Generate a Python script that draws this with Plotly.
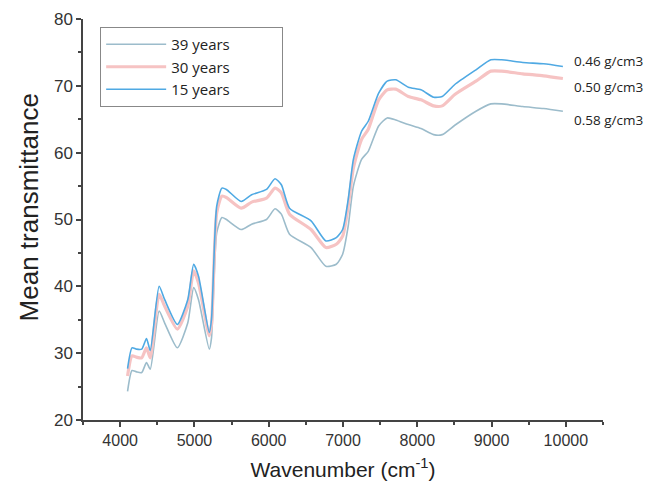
import plotly.graph_objects as go

wavenumber = [4100, 4160, 4220, 4290, 4355, 4405, 4525, 4600, 4770, 4910, 4990, 5055,
              5200, 5230, 5300, 5370, 5430, 5630, 5770, 5970, 6085, 6170, 6280, 6570,
              6770, 6910, 6995, 7070, 7140, 7250, 7340, 7480, 7595, 7710, 7880, 8050,
              8220, 8335, 8505, 8790, 8990, 9135, 9420, 9700, 9960]

years_15 = [27.7, 30.8, 30.6, 30.6, 32.2, 30.4, 40.0, 38.0, 34.3, 38.0, 43.3, 41.5,
            33.1, 35.1, 52.0, 54.7, 54.5, 52.7, 53.7, 54.5, 56.1, 55.2, 51.7, 49.8,
            46.8, 47.3, 48.5, 53.0, 59.0, 63.2, 64.7, 68.9, 70.7, 70.9, 69.8, 69.4,
            68.3, 68.4, 70.2, 72.4, 73.9, 73.9, 73.5, 73.3, 72.9]

years_30 = [26.6, 29.6, 29.4, 29.3, 30.8, 29.3, 38.8, 37.0, 33.6, 37.0, 42.3, 40.5,
            32.6, 34.3, 51.0, 53.5, 53.3, 51.7, 52.6, 53.2, 54.7, 54.0, 50.8, 48.5,
            45.8, 46.3, 47.5, 52.0, 57.7, 62.0, 63.5, 67.9, 69.4, 69.5, 68.4, 67.9,
            67.0, 67.0, 68.7, 70.7, 72.2, 72.2, 71.8, 71.5, 71.1]

years_39 = [24.3, 27.4, 27.2, 27.1, 28.6, 27.6, 36.3, 34.5, 30.8, 34.5, 39.8, 38.0,
            30.6, 32.3, 48.0, 50.3, 50.0, 48.5, 49.3, 50.0, 51.6, 50.8, 47.8, 45.8,
            43.0, 43.3, 44.8, 49.0, 55.0, 59.0, 60.2, 64.0, 65.2, 64.9, 64.2, 63.6,
            62.7, 62.7, 64.1, 66.2, 67.3, 67.3, 66.9, 66.6, 66.2]

series_names = ["39 years", "30 years", "15 years"]
density_labels = ["0.46 g/cm3", "0.50 g/cm3", "0.58 g/cm3"]
density_y = [73.7, 69.8, 64.9]
label_x = 10080
x_ticks = [4000, 5000, 6000, 7000, 8000, 9000, 10000]
y_ticks = [20, 30, 40, 50, 60, 70, 80]

pad = "\u00a0" * 12

fig = go.Figure()
fig.add_trace(go.Scatter(x=wavenumber, y=years_39, name=series_names[0] + pad, mode="lines",
                         line=dict(color="#9cbccb", width=1.6, shape="spline", smoothing=0.6)))
fig.add_trace(go.Scatter(x=wavenumber, y=years_30, name=series_names[1] + pad, mode="lines",
                         line=dict(color="#f6c3c3", width=3.2, shape="spline", smoothing=0.6)))
fig.add_trace(go.Scatter(x=wavenumber, y=years_15, name=series_names[2] + pad, mode="lines",
                         line=dict(color="#4fa9e3", width=1.6, shape="spline", smoothing=0.6)))

for lab, yv in zip(density_labels, density_y):
    fig.add_annotation(x=label_x, y=yv, text=lab, showarrow=False, xanchor="left",
                       yanchor="middle", font=dict(family="Open Sans", size=13.5, color="#222"))

# y-axis title
fig.add_annotation(x=-0.102, y=0.53, xref="paper", yref="paper", text="Mean transmittance",
                   textangle=-90, showarrow=False, xanchor="center", yanchor="middle",
                   font=dict(family="Liberation Sans", size=26, color="#222"))

axis_common = dict(showline=True, linecolor="#444", linewidth=1.5, ticks="outside",
                   ticklen=5, tickwidth=1.5, tickcolor="#444", showgrid=False, zeroline=False,
                   automargin=False)

fig.update_xaxes(range=[3500, 10500], tickvals=x_ticks, ticktext=[str(v) for v in x_ticks],
                 tickfont=dict(family="Liberation Sans", size=16, color="#333"),
                 minor=dict(dtick=500, tick0=3500, ticks="outside", ticklen=3, tickcolor="#444"),
                 title=dict(text="Wavenumber (cm<sup>-1</sup>)", standoff=14,
                            font=dict(family="Liberation Sans", size=21, color="#222")),
                 **axis_common)
fig.update_yaxes(range=[20, 80], tickvals=y_ticks, ticktext=[str(v) for v in y_ticks],
                 tickfont=dict(family="Liberation Sans", size=17, color="#333"),
                 minor=dict(dtick=5, tick0=20, ticks="outside", ticklen=3, tickcolor="#444"),
                 **axis_common)

fig.update_layout(
    width=666, height=487,
    margin=dict(l=83, r=63, t=19, b=67),
    paper_bgcolor="white", plot_bgcolor="white",
    legend=dict(x=0.033, y=0.98, xanchor="left", yanchor="top",
                bordercolor="#888", borderwidth=1, bgcolor="white",
                itemwidth=60, tracegroupgap=0,
                font=dict(family="Open Sans", size=15, color="#222")),
)

fig.write_html("out.html")
